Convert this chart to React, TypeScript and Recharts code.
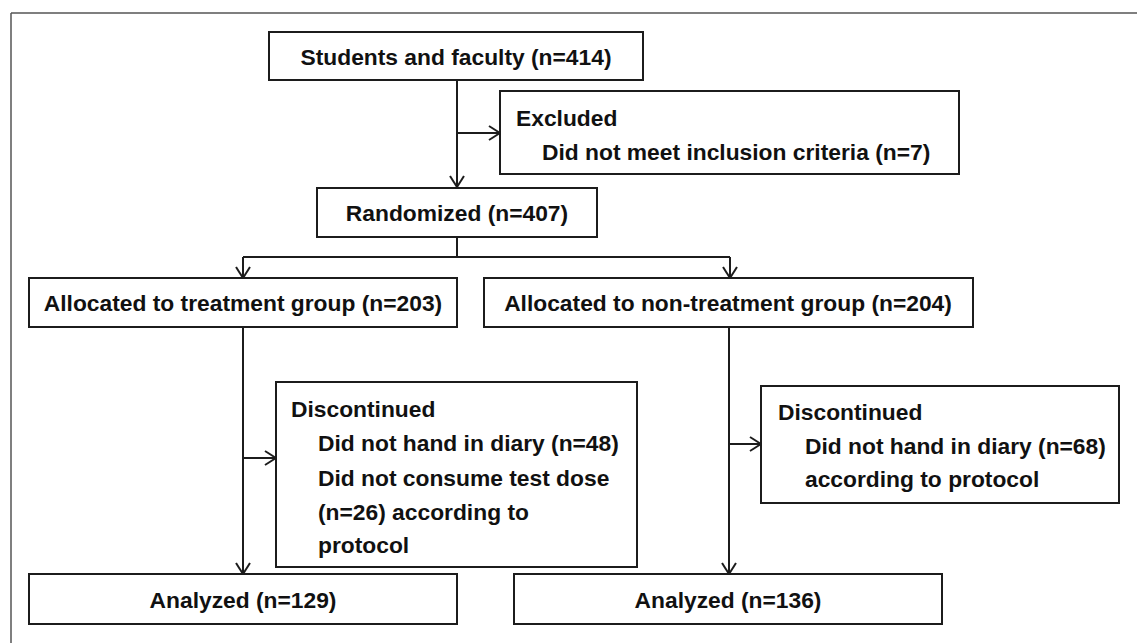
import { ScatterChart, Scatter, XAxis, YAxis, ReferenceArea, ReferenceLine } from 'recharts';

if (typeof document !== 'undefined') document.body.style.margin = '0';

const W = 1137;
const H = 643;

// flow boxes, in picture units
const boxes = [
  { id: 'enrolled', x1: 269, x2: 643, y1: 32, y2: 80 },
  { id: 'excluded', x1: 500, x2: 959, y1: 91, y2: 174 },
  { id: 'randomized', x1: 317, x2: 597, y1: 188, y2: 237 },
  { id: 'allocTreat', x1: 29, x2: 457, y1: 278, y2: 327 },
  { id: 'allocNon', x1: 484, x2: 973, y1: 278, y2: 327 },
  { id: 'discTreat', x1: 276, x2: 637, y1: 382, y2: 567 },
  { id: 'discNon', x1: 761, x2: 1119, y1: 386, y2: 503 },
  { id: 'analyzedTreat', x1: 29, x2: 457, y1: 574, y2: 624 },
  { id: 'analyzedNon', x1: 514, x2: 942, y1: 574, y2: 624 },
];

// plain connectors
const links = [
  { x1: 457, y1: 237, x2: 457, y2: 257 },
  { x1: 243, y1: 257, x2: 730, y2: 257 },
];

// connectors with an open arrow head at the end
const arrows = [
  { x1: 457, y1: 80, x2: 457, y2: 187 },
  { x1: 457, y1: 133, x2: 500, y2: 133 },
  { x1: 243, y1: 257, x2: 243, y2: 278 },
  { x1: 730, y1: 257, x2: 730, y2: 278 },
  { x1: 243, y1: 327, x2: 243, y2: 574 },
  { x1: 243, y1: 458, x2: 276, y2: 458 },
  { x1: 729, y1: 327, x2: 729, y2: 574 },
  { x1: 729, y1: 444, x2: 761, y2: 444 },
];

const labels = [
  { x: 456, y: 57, text: 'Students and faculty (n=414)', anchor: 'middle' },
  { x: 516, y: 118, text: 'Excluded', anchor: 'start' },
  { x: 542, y: 152, text: 'Did not meet inclusion criteria (n=7)', anchor: 'start' },
  { x: 457, y: 213, text: 'Randomized (n=407)', anchor: 'middle' },
  { x: 243, y: 303, text: 'Allocated to treatment group (n=203)', anchor: 'middle' },
  { x: 728, y: 303, text: 'Allocated to non-treatment group (n=204)', anchor: 'middle' },
  { x: 291, y: 409, text: 'Discontinued', anchor: 'start' },
  { x: 318, y: 443, text: 'Did not hand in diary (n=48)', anchor: 'start' },
  { x: 318, y: 478, text: 'Did not consume test dose', anchor: 'start' },
  { x: 318, y: 512, text: '(n=26) according to', anchor: 'start' },
  { x: 318, y: 545, text: 'protocol', anchor: 'start' },
  { x: 778, y: 412, text: 'Discontinued', anchor: 'start' },
  { x: 805, y: 446, text: 'Did not hand in diary (n=68)', anchor: 'start' },
  { x: 805, y: 479, text: 'according to protocol', anchor: 'start' },
  { x: 243, y: 600, text: 'Analyzed (n=129)', anchor: 'middle' },
  { x: 728, y: 600, text: 'Analyzed (n=136)', anchor: 'middle' },
];

const INK = '#1c1c1c';
const HEAD_LEN = 11;
const HEAD_HALF = 7;

const headSegments = (a: { x1: number; y1: number; x2: number; y2: number }) => {
  const dx = a.x2 - a.x1;
  const dy = a.y2 - a.y1;
  const len = Math.hypot(dx, dy) || 1;
  const ux = dx / len;
  const uy = dy / len;
  const bx = a.x2 - ux * HEAD_LEN;
  const by = a.y2 - uy * HEAD_LEN;
  return [
    [{ x: bx - uy * HEAD_HALF, y: by + ux * HEAD_HALF }, { x: a.x2, y: a.y2 }],
    [{ x: bx + uy * HEAD_HALF, y: by - ux * HEAD_HALF }, { x: a.x2, y: a.y2 }],
  ];
};

const LabelShape = (props: any) => {
  const { cx, cy, payload } = props;
  return (
    <text
      x={cx}
      y={cy}
      textAnchor={payload.anchor}
      dominantBaseline="central"
      fontFamily="'Liberation Sans', Arial, sans-serif"
      fontWeight="bold"
      fontSize={22.8}
      fill="#111"
    >
      {payload.text}
    </text>
  );
};

export default function App() {
  return (
    <div style={{ background: '#fff', width: W, height: H }}>
      <ScatterChart width={W} height={H} margin={{ top: 0, right: 0, bottom: 0, left: 0 }}>
        <XAxis type="number" dataKey="x" domain={[0, W]} hide allowDataOverflow />
        <YAxis type="number" dataKey="y" domain={[0, H]} reversed hide allowDataOverflow />

        {/* outer frame (left and top edges visible) */}
        <ReferenceLine segment={[{ x: 11, y: 13 }, { x: W, y: 13 }]} stroke="#555" strokeWidth={1.5} ifOverflow="visible" />
        <ReferenceLine segment={[{ x: 11, y: 13 }, { x: 11, y: H }]} stroke="#555" strokeWidth={1.5} ifOverflow="visible" />

        {boxes.map(b => (
          <ReferenceArea
            key={b.id}
            x1={b.x1}
            x2={b.x2}
            y1={b.y1}
            y2={b.y2}
            fill="#fff"
            fillOpacity={1}
            stroke={INK}
            strokeWidth={2}
            ifOverflow="visible"
          />
        ))}

        {links.map((l, i) => (
          <ReferenceLine key={`l${i}`} segment={[{ x: l.x1, y: l.y1 }, { x: l.x2, y: l.y2 }]} stroke={INK} strokeWidth={2} ifOverflow="visible" />
        ))}

        {arrows.map((a, i) => (
          <ReferenceLine key={`a${i}`} segment={[{ x: a.x1, y: a.y1 }, { x: a.x2, y: a.y2 }]} stroke={INK} strokeWidth={2} ifOverflow="visible" />
        ))}
        {arrows.flatMap((a, i) =>
          headSegments(a).map((s, j) => (
            <ReferenceLine key={`h${i}-${j}`} segment={s as any} stroke={INK} strokeWidth={2} ifOverflow="visible" />
          ))
        )}

        <Scatter data={labels} shape={LabelShape} isAnimationActive={false} />
      </ScatterChart>
    </div>
  );
}
